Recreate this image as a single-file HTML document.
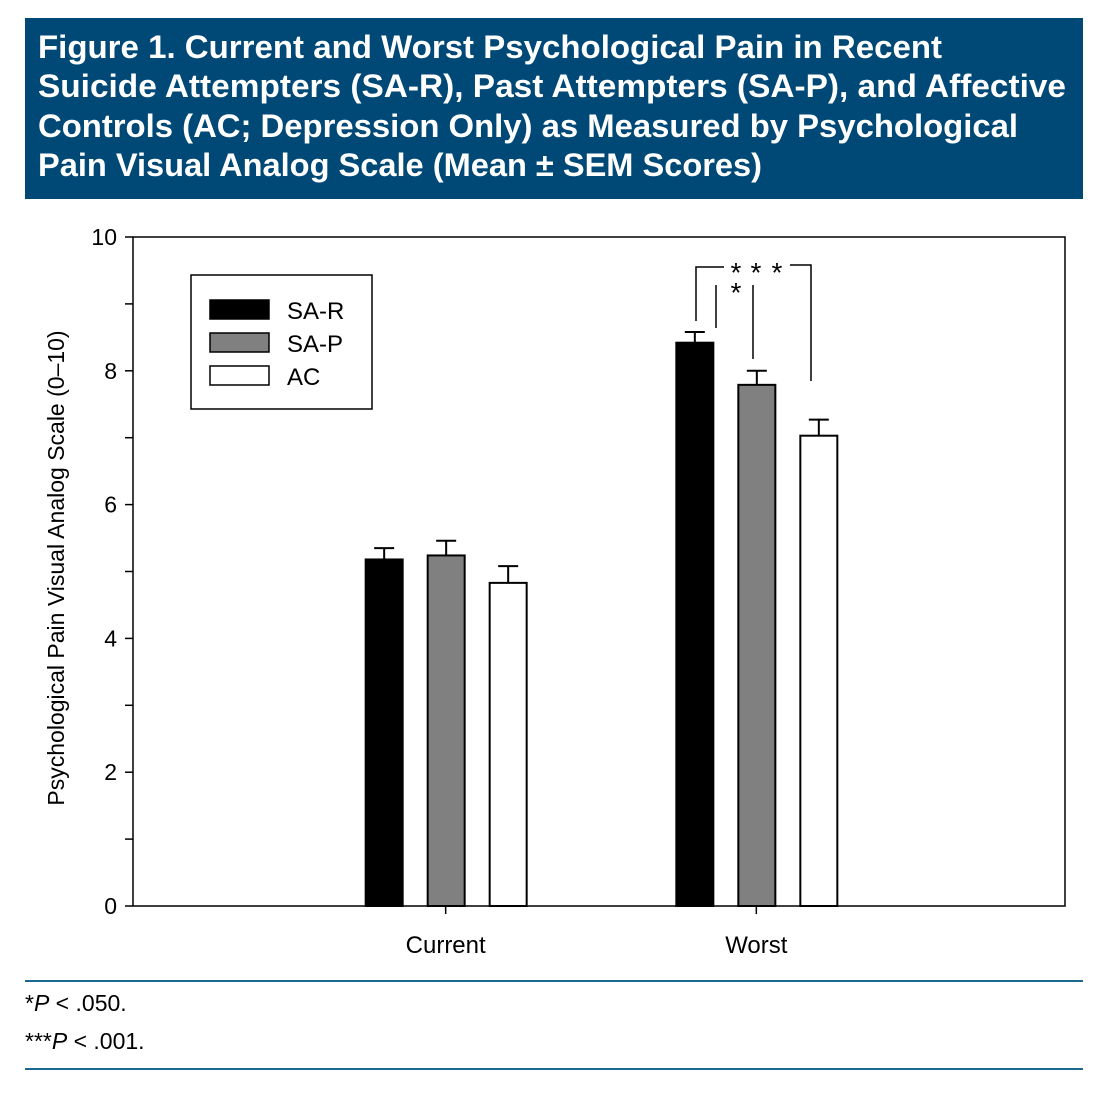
<!DOCTYPE html>
<html><head><meta charset="utf-8"><style>
body{margin:0;width:1118px;height:1108px;background:#fff;font-family:"Liberation Sans","DejaVu Sans",sans-serif;position:relative;overflow:hidden}
.rule{position:absolute;left:25px;width:1058px;height:2px;background:#1a6a90}
.fn{position:absolute;left:25px;font-size:23px;color:#000}
</style></head><body>
<svg id="title" width="1118" height="200" style="position:absolute;left:0;top:0" font-family="Liberation Sans, DejaVu Sans, sans-serif">
<rect x="25" y="18" width="1058" height="181" fill="#004876"/>
<g fill="#fff" font-size="32" font-weight="bold">
<text x="38" y="58" textLength="904" lengthAdjust="spacingAndGlyphs">Figure 1. Current and Worst Psychological Pain in Recent</text>
<text x="38" y="97" textLength="1028" lengthAdjust="spacingAndGlyphs">Suicide Attempters (SA-R), Past Attempters (SA-P), and Affective</text>
<text x="38" y="137" textLength="980" lengthAdjust="spacingAndGlyphs">Controls (AC; Depression Only) as Measured by Psychological</text>
<text x="38" y="176" textLength="724" lengthAdjust="spacingAndGlyphs">Pain Visual Analog Scale (Mean ± SEM Scores)</text>
</g></svg>
<svg id="chart" width="1118" height="1108" style="position:absolute;left:0;top:0;pointer-events:none" font-family="Liberation Sans, DejaVu Sans, sans-serif"></svg>
<div class="rule" style="top:980px"></div>
<div class="fn" style="top:990px">*<i>P</i> &lt; .050.</div>
<div class="fn" style="top:1028px">***<i>P</i> &lt; .001.</div>
<div class="rule" style="top:1068px"></div>
<script>
const categories=["Current","Worst"];
const seriesNames=["SA-R","SA-P","AC"];
const seriesFill=["#000","#808080","#fff"];
const meanSAR=[5.18,8.42];
const meanSAP=[5.24,7.79];
const meanAC=[4.83,7.03];
const semSAR=[0.17,0.16];
const semSAP=[0.22,0.21];
const semAC=[0.25,0.24];
const yTicks=[0,2,4,6,8,10];
const NS="http://www.w3.org/2000/svg";
const svg=document.getElementById('chart');
const X0=133,X1=1065,Y0=906,Y1=237;
const y=v=>Y0-(v/10)*(Y0-Y1);
const xc=i=>X0+(X1-X0)*(i+1)/3+2;
function mk(t,a,p){const e=document.createElementNS(NS,t);for(const k in a)e.setAttribute(k,a[k]);(p||svg).appendChild(e);return e;}
let e;
e=mk('rect',{x:X0,y:Y1,width:X1-X0,height:Y0-Y1,fill:'none',stroke:'#000','stroke-width':1.5});

for(let v=0;v<=10;v++){
 e=mk('line',{x1:X0-8,x2:X0,y1:y(v),y2:y(v),stroke:'#000','stroke-width':1.5});
 
}
yTicks.forEach(v=>{e=mk('text',{x:X0-16,y:y(v)+8,'text-anchor':'end','font-size':23});e.textContent=v;
 });
e=mk('text',{transform:'translate(64,568) rotate(-90)','text-anchor':'middle','font-size':23});
e.textContent='Psychological Pain Visual Analog Scale (0–10)';

const means=[meanSAR,meanSAP,meanAC],sems=[semSAR,semSAP,semAC];
categories.forEach((c,i)=>{
 const cx=xc(i);
 e=mk('line',{x1:cx,x2:cx,y1:Y0,y2:Y0+8,stroke:'#000','stroke-width':1.5});
 
 e=mk('text',{x:cx,y:Y0+47,'text-anchor':'middle','font-size':24});e.textContent=c;
 
 for(let s=0;s<3;s++){
  const bx=cx-80+s*62, m=means[s][i], se=sems[s][i], mid=bx+18.5;
  e=mk('line',{x1:mid,x2:mid,y1:y(m),y2:y(m+se),stroke:'#000','stroke-width':2});
  
  e=mk('line',{x1:mid-10,x2:mid+10,y1:y(m+se),y2:y(m+se),stroke:'#000','stroke-width':2});
  
  e=mk('rect',{x:bx,y:y(m),width:37,height:Y0-y(m),fill:seriesFill[s],stroke:'#000','stroke-width':2});
  
 }
});
const g=mk('g',{stroke:'#000','stroke-width':1.5,fill:'none'});

mk('polyline',{points:'696,321 696,267 724,267'},g);
mk('polyline',{points:'790,265 811,265 811,381'},g);
mk('line',{x1:716,x2:716,y1:285,y2:328},g);
mk('line',{x1:753,x2:753,y1:285,y2:359},g);
[[736,282],[756,282],[777,282],[736,302]].forEach(p=>{e=mk('text',{x:p[0],y:p[1],'text-anchor':'middle','font-size':28});e.textContent='*';
 });
e=mk('rect',{x:191,y:275,width:181,height:134,fill:'#fff',stroke:'#000','stroke-width':1.5});

seriesNames.forEach((n,s)=>{
 e=mk('rect',{x:210,y:300+s*33,width:59,height:19,fill:seriesFill[s],stroke:'#000','stroke-width':1.5});
 
 e=mk('text',{x:287,y:319+s*33,'font-size':24});e.textContent=n;
 
});
</script>
</body></html>
